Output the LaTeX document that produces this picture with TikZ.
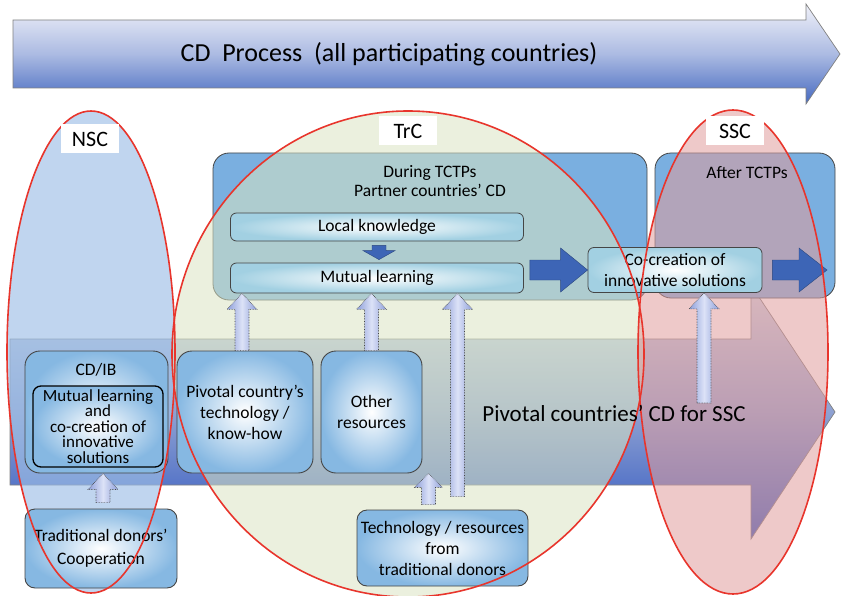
\documentclass[tikz,border=0pt]{standalone}
\usepackage{fontspec}
\setmainfont{Carlito}
\usetikzlibrary{calc,positioning}
\definecolor{nscblue}{HTML}{9EBFE6}
\definecolor{trcgreen}{HTML}{DAE4C2}
\definecolor{sscpink}{HTML}{E09C9C}
\definecolor{zonered}{HTML}{E8352C}
\definecolor{panelblue}{HTML}{7AAFE0}
\definecolor{boxedge}{HTML}{454545}
\definecolor{boxouter}{HTML}{86B8E2}
\definecolor{barouter}{HTML}{A2D0E2}
\definecolor{darkarr}{HTML}{3D65B6}
\definecolor{liftside}{HTML}{8E9FDA}
\definecolor{liftmid}{HTML}{DCE2F7}
\definecolor{flowtop}{HTML}{F0F1F9}
\definecolor{flowbot}{HTML}{4569C0}
\definecolor{cdtop}{HTML}{D3DBE6}
\definecolor{cdmid}{HTML}{8EA1D2}
\definecolor{cdbot}{HTML}{2F56C0}
\newcommand{\ftxt}{\fontsize{17.5}{21}\selectfont}
\newcommand{\blockarrow}[6][]{%
 \path ($(#3)!#6!(#2)$) coordinate (ba-h);
 \path[#1] ($(#2)!#4!90:(#3)$) -- ($(ba-h)!#4!90:(#3)$) -- ($(ba-h)!#5!90:(#3)$) -- (#3) -- ($(ba-h)!#5!-90:(#3)$) -- ($(ba-h)!#4!-90:(#3)$) -- ($(#2)!#4!-90:(#3)$) -- cycle;}
\tikzset{flow/.style={draw=gray, line width=.7pt}, panel/.style={draw=boxedge, fill=panelblue, line width=.8pt, rounded corners=16}, zone/.style={fill opacity=.55}, ring/.style={draw=zonered, line width=1.6pt}, tag/.style={fill=white, minimum width=58, minimum height=29, font=\fontsize{22}{25}\selectfont}, card/.style={draw=boxedge, line width=.9pt, rounded corners=15, inner color=white, outer color=boxouter, align=center, font=\ftxt}, bar/.style={draw=boxedge, line width=.8pt, rounded corners=6, inner color=white, outer color=barouter, align=center, font=\ftxt}, push/.style={fill=darkarr, draw=darkarr!70!black, line width=.4pt}, lift/.style={left color=liftside, right color=liftside, middle color=liftmid, draw=boxedge, densely dotted, line width=.6pt}}

\begin{document}
\begin{tikzpicture}[x=1pt,y=-1pt]
\useasboundingbox (0,0) rectangle (842,596);
% process arrows
\shade[flow, top color=flowtop, bottom color=flowbot, middle color=flowtop!60!flowbot] (13,20)--(806,20)--(806,4)--(840,54)--(806,104)--(806,88)--(13,88)--cycle;
\shade[flow, top color=cdtop, bottom color=cdbot, middle color=cdmid] (10,339)--(751,339)--(751,285)--(835,412)--(751,539)--(751,485)--(10,485)--cycle;
\node[font=\fontsize{26}{30}\selectfont] (title) at (389,54) {CD\ \ Process\ \ (all participating countries)};
% panels and zones
\node[panel, minimum width=434, minimum height=147] (during) at (430,226.5) {};
\node[panel, minimum width=180, minimum height=145] (after) at (745,225.5) {};
\fill[nscblue, fill opacity=.65] (91,352) ellipse [x radius=84pt, y radius=241pt];
\fill[trcgreen, zone] (408,354) ellipse [x radius=236pt, y radius=243pt];
\fill[sscpink, zone] (733,352) ellipse [x radius=95pt, y radius=242pt];
\node[align=center, font=\fontsize{17.5}{19}\selectfont] (duringtxt) at (430,181) {During TCTPs\\Partner countries’ CD};
\node[font=\ftxt] (aftertxt) at (747,173) {After TCTPs};
% boxes
\node[bar, minimum width=293, minimum height=28] (local) at (377,227) {Local knowledge};
\node[bar, minimum width=293, minimum height=30] (mutual) at (377,278) {Mutual learning};
\node[bar, minimum width=174, minimum height=45, inner sep=0pt] (cocreate) at (675,270) {Co-creation of\\innovative solutions};
\node[card, minimum width=143, minimum height=122] (cdib) at (96.5,412) {};
\node[font=\ftxt] (cdibtxt) at (96,370) {CD/IB};
\node[card, draw=black, line width=1.3pt, rounded corners=8, minimum width=130, minimum height=81, inner sep=0pt, font=\fontsize{17}{15.5}\selectfont] (cdibin) at (98,426.5) {Mutual learning\\and\\co-creation of\\innovative\\solutions};
\node[card, minimum width=136, minimum height=122, font=\fontsize{17.5}{21}\selectfont] (pivot) at (245,412) {Pivotal country’s\\technology /\\know-how};
\node[card, minimum width=101, minimum height=122, font=\fontsize{17.5}{21}\selectfont] (other) at (371.5,412) {Other\\resources};
\node[card, rounded corners=10, minimum width=152, minimum height=79, inner sep=0pt, font=\fontsize{17.5}{23}\selectfont] (donors) at (101,548.5) {Traditional donors’\\Cooperation};
\node[card, rounded corners=10, minimum width=171, minimum height=76, inner sep=0pt, font=\fontsize{17.5}{21}\selectfont] (tech) at (442.5,548) {Technology / resources\\from\\traditional donors};
% connectors
\coordinate (lk-out) at ($(local.south)+(2,4)$);
\coordinate (ml-in) at ($(mutual.north)+(2,-3)$);
\blockarrow[push]{lk-out}{ml-in}{7pt}{16pt}{9pt}
\coordinate (ml-out) at ($(mutual.east |- cocreate.west)+(6,0)$);
\blockarrow[push]{ml-out}{cocreate.west}{10pt}{22pt}{27pt}
\coordinate (cc-out) at ($(cocreate.east)+(10,0)$);
\coordinate (ssc-end) at (827,270);
\blockarrow[push]{cc-out}{ssc-end}{10pt}{22pt}{28pt}
\coordinate (pv-in) at ($(pivot.north)+(-3,0)$);
\blockarrow[lift]{pv-in}{pv-in |- mutual.south}{7pt}{15pt}{16pt}
\blockarrow[lift]{other.north}{other.north |- mutual.south}{7pt}{15pt}{16pt}
\coordinate (tk-long) at ($(tech.north)+(15,-13)$);
\blockarrow[lift]{tk-long}{tk-long |- mutual.south}{7pt}{15pt}{16pt}
\coordinate (tk-short) at ($(tech.north)+(-14,-5)$);
\blockarrow[lift]{tk-short}{tk-short |- other.south}{7pt}{14pt}{14pt}
\coordinate (dn-out) at ($(donors.north)+(2,-6)$);
\blockarrow[lift]{dn-out}{dn-out |- cdib.south}{7pt}{15pt}{16pt}
\coordinate (cc-in) at (704,403);
\blockarrow[lift]{cc-in}{cc-in |- cocreate.south}{7pt}{15pt}{16pt}
% zone outlines and labels
\draw[ring] (91,352) ellipse [x radius=84pt, y radius=241pt];
\draw[ring] (408,354) ellipse [x radius=236pt, y radius=243pt];
\draw[ring] (733,352) ellipse [x radius=95pt, y radius=242pt];
\node[tag] (nsc) at (90,139) {NSC};
\node[tag] (trc) at (408,131) {TrC};
\node[tag] (ssc) at (735,131) {SSC};
\node[font=\fontsize{23}{27}\selectfont] (pivotcd) at (614,413) {Pivotal countries’ CD for SSC};
\end{tikzpicture}
\end{document}
